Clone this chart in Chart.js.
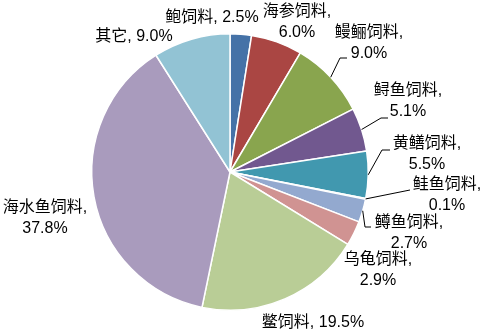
<!DOCTYPE html>
<html>
<head>
<meta charset="utf-8">
<script src="https://cdn.jsdelivr.net/npm/chart.js@4/dist/chart.umd.min.js"></script>
<style>
  html, body { margin: 0; padding: 0; background: #fff; }
  #wrap { width: 486px; height: 331px; }
</style>
</head>
<body>
<div id="wrap"><canvas id="pie" width="486" height="331"></canvas></div>
<script>
// data (percent)
var categories = ['鲍饲料', '海参饲料', '鳗鲡饲料', '鲟鱼饲料', '黄鳝饲料', '鲑鱼饲料',
  '鳟鱼饲料', '乌龟饲料', '鳖饲料', '海水鱼饲料', '其它'];
var shares = [2.5, 6.0, 9.0, 5.1, 5.5, 0.1, 2.7, 2.9, 19.5, 37.8, 9.0];
var colors = ['#4572A7', '#AA4643', '#89A54E', '#71588F', '#4198AF', '#DB843D',
  '#93A9CF', '#D09392', '#B9CD96', '#A99BBD', '#92C3D4'];

// label layout: text centre, one or two lines, optional leader line points
var labelLayout = [
  { x: 212, y: 18, split: false },
  { x: 297, y: 12, split: true },
  { x: 369, y: 33, split: true, leader: [[340, 58], [347, 58]] },
  { x: 408, y: 91, split: true, leader: [[381, 118], [388, 118]] },
  { x: 427, y: 144, split: true, leader: [[382, 150], [390, 150]] },
  { x: 447, y: 185, split: true, leader: [[410, 190]] },
  { x: 409, y: 223, split: true, leader: [[365, 227], [371, 227]] },
  { x: 378, y: 260, split: true },
  { x: 313, y: 323, split: false },
  { x: 45, y: 208, split: true },
  { x: 134, y: 37, split: false }
];

var FONT = '16px "Liberation Sans", Arial, "Noto Sans CJK SC", sans-serif';

var pieLabels = {
  id: 'pieLabels',
  afterDraw: function(chart) {
    var ctx = chart.ctx;
    var arcs = chart.getDatasetMeta(0).data;
    ctx.save();
    ctx.font = FONT;
    ctx.fillStyle = '#000';
    ctx.textAlign = 'center';
    ctx.textBaseline = 'middle';
    arcs.forEach(function(arc, i) {
      var lay = labelLayout[i];
      var name = categories[i];
      var pct = shares[i].toFixed(1) + '%';
      if (lay.split) {
        ctx.fillText(name + ',', lay.x, lay.y);
        ctx.fillText(pct, lay.x, lay.y + 21);
      } else {
        ctx.fillText(name + ', ' + pct, lay.x, lay.y);
      }
      if (lay.leader) {
        var p = arc.getProps(['x', 'y', 'startAngle', 'endAngle', 'outerRadius'], true);
        var mid = (p.startAngle + p.endAngle) / 2;
        ctx.beginPath();
        ctx.strokeStyle = '#000';
        ctx.lineWidth = 1;
        ctx.moveTo(p.x + Math.cos(mid) * p.outerRadius, p.y + Math.sin(mid) * p.outerRadius);
        lay.leader.forEach(function(pt) { ctx.lineTo(pt[0], pt[1]); });
        ctx.stroke();
      }
    });
    ctx.restore();
  }
};

new Chart(document.getElementById('pie'), {
  type: 'pie',
  data: {
    labels: categories,
    datasets: [{
      data: shares,
      backgroundColor: colors,
      borderColor: '#fff',
      borderWidth: 1.5
    }]
  },
  options: {
    responsive: false,
    animation: false,
    layout: { padding: { left: 91, right: 117, top: 33, bottom: 20 } },
    plugins: {
      legend: { display: false },
      tooltip: { enabled: false }
    }
  },
  plugins: [pieLabels]
});
</script>
</body>
</html>
